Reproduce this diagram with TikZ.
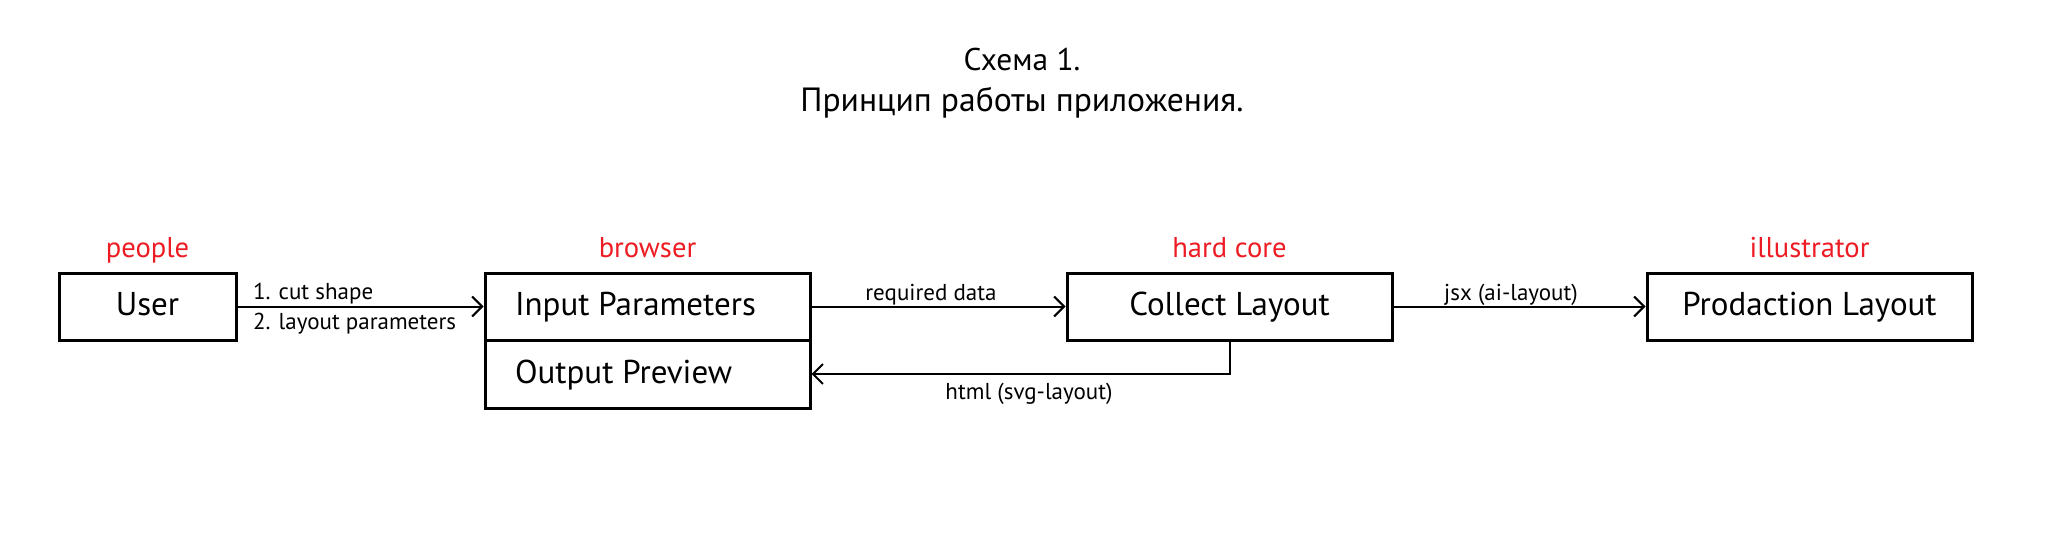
\documentclass[tikz,border=0pt]{standalone}
\usepackage{fontspec}
\setmainfont{PT Sans}
\usetikzlibrary{arrows.meta}
\definecolor{lblred}{HTML}{ED1C24}
\begin{document}
\begin{tikzpicture}[x=0.5pt,y=-0.5pt,
  box/.style={draw=black,line width=1.5pt,inner sep=0pt},
  boxtext/.style={font=\fontsize{16.5}{19}\selectfont,anchor=base},
  tag/.style={font=\fontsize{14.3}{16}\selectfont,text=lblred,anchor=base},
  lbl/.style={font=\fontsize{11.5}{13}\selectfont,anchor=base},
  conn/.style={line width=1pt,-{Straight Barb[length=5pt,width=10pt,line width=1pt]}}]
\useasboundingbox (0,0) rectangle (2045,541);
% title
\node[font=\fontsize{15.7}{18}\selectfont,anchor=base] (t1) at (1022,70) {Схема 1.};
\node[font=\fontsize{16.8}{19}\selectfont,anchor=base] (t2) at (1022,111) {Принцип работы приложения.};
% boxes
\node[box,minimum width=88.5pt,minimum height=33.5pt] (user) at (147.5,306.5) {};
\node[box,minimum width=162.5pt,minimum height=33.5pt] (inp) at (647.5,306.5) {};
\node[box,minimum width=162.5pt,minimum height=34pt] (outp) at (647.5,374) {};
\node[box,minimum width=162.5pt,minimum height=33.5pt] (coll) at (1229.5,306.5) {};
\node[box,minimum width=162.5pt,minimum height=33.5pt] (prod) at (1809.5,306.5) {};
% box texts
\node[boxtext] (userT) at (147.5,315) {User};
\node[boxtext,anchor=base west] (inpT) at (508,315) {Input Parameters};
\node[boxtext,anchor=base west] (outpT) at (508,383) {Output Preview};
\node[boxtext] (collT) at (1229.5,315) {Collect Layout};
\node[boxtext] (prodT) at (1809.5,315) {Prodaction Layout};
% tags
\node[tag] (tagP) at (147.5,257) {people};
\node[tag] (tagB) at (647.5,257) {browser};
\node[tag] (tagH) at (1229.5,257) {hard core};
\node[tag] (tagI) at (1809.5,257) {illustrator};
% connectors
\draw[conn] (user.east) -- (inp.west);
\draw[conn] (inp.east) -- (coll.west);
\draw[conn] (coll.east) -- (prod.west);
\coordinate (bend) at (coll.south |- outp.east);
\draw[conn] (coll.south) -- (bend) -- (outp.east);
% connector labels
\node[lbl,anchor=base west] (l1) at (246,299) {1. cut shape};
\node[lbl,anchor=base west] (l2) at (246,329) {2. layout parameters};
\node[lbl] (l3) at (931,300) {required data};
\node[lbl] (l4) at (1511,300) {jsx (ai-layout)};
\node[lbl] (l5) at (1029,399) {html (svg-layout)};
\end{tikzpicture}
\end{document}
